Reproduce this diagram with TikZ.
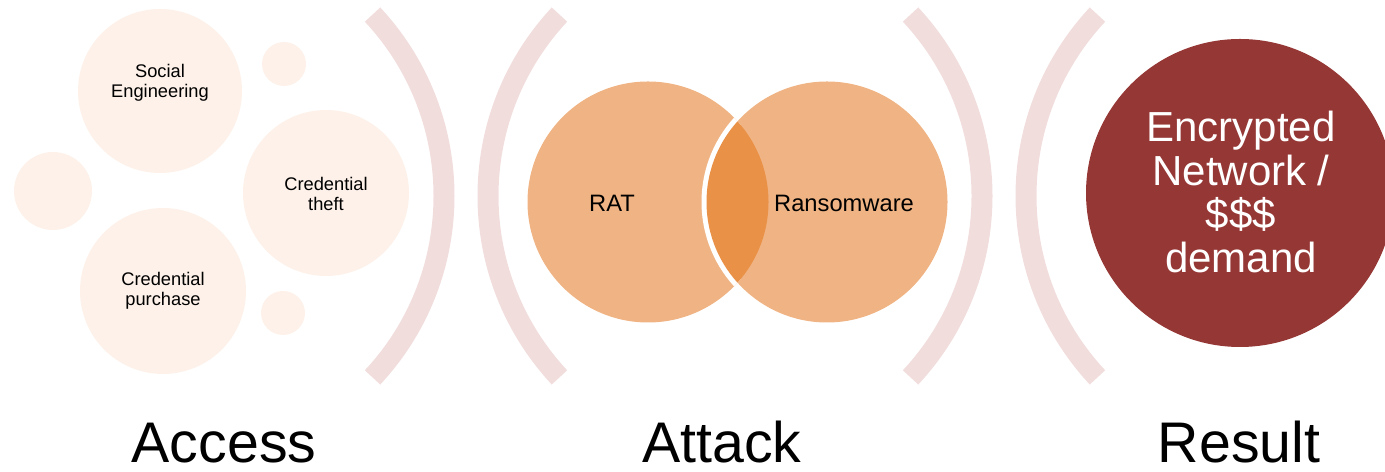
\documentclass[tikz,border=0pt]{standalone}
\usepackage{fontspec}
\setmainfont{Liberation Sans}
\definecolor{cream}{RGB}{253,241,233}
\definecolor{rim}{RGB}{242,221,221}
\definecolor{peach}{RGB}{240,180,132}
\definecolor{lens}{RGB}{234,145,72}
\definecolor{wine}{RGB}{149,55,53}
\begin{document}
\begin{tikzpicture}[x=0.02cm, y=0.02cm,
        bracket/.style = {rim, line width=0.42cm},
        small/.style = {align=center, inner sep=0pt, font=\fontsize{10.4}{11.2}\selectfont},
        venn/.style = {anchor=base, inner sep=0pt, font=\fontsize{13.5}{15}\selectfont},
        phase/.style = {anchor=base, inner sep=0pt, font=\fontsize{32.6}{36}\selectfont}]
                \clip (0,0) rectangle (1385,472);

                \fill[cream] (160,381) circle (82);
                \fill[cream] (326,279) circle (83);
                \fill[cream] (163,181) circle (83);
                \fill[cream] (53,281)  circle (39);
                \fill[cream] (284,408) circle (22);
                \fill[cream] (283,159) circle (22);
                \node[small] (social)   at (160,389) {Social\\Engineering};
                \node[small] (theft)    at (326,278) {Credential\\theft};
                \node[small] (purchase) at (163,181) {Credential\\purchase};

                \draw[bracket] (178,276)  ++(-43:266) arc[start angle=-43, end angle=43, radius=266];
                \draw[bracket] (754,276)  ++(137:266) arc[start angle=137, end angle=223, radius=266];
                \draw[bracket] (716,276)  ++(-43:266) arc[start angle=-43, end angle=43, radius=266];
                \draw[bracket] (1292,276) ++(137:266) arc[start angle=137, end angle=223, radius=266];

                \fill[peach] (648,270) circle (120.5);
                \fill[peach] (827,270) circle (120.5);
                \begin{scope}
                    \clip (648,270) circle (120.5);
                    \draw[white, line width=0.2cm] (827,270) circle (120.5);
                    \fill[lens] (827,270) circle (120.5);
                \end{scope}
                \node[venn] (rat)        at (612,260) {RAT};
                \node[venn] (ransomware) at (844,260) {Ransomware};

                \fill[wine] (1240,279) circle (154);
                \node[align=center, inner sep=0pt, text=white,
                      font=\fontsize{23.9}{24.8}\selectfont]
                    (encrypted) at (1241,280) {Encrypted\\Network /\\\$\$\$\\demand};

                \node[phase] (access) at (224,9)  {Access};
                \node[phase] (attack) at (722,9)  {Attack};
                \node[phase] (result) at (1239,9) {Result};
            \end{tikzpicture}
\end{document}
